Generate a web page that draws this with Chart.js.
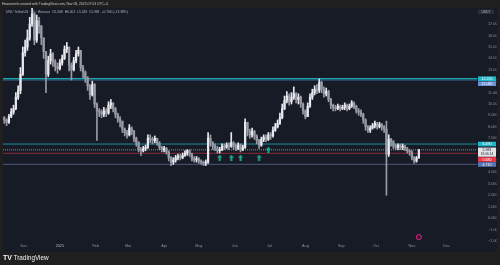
<!DOCTYPE html>
<html>
<head>
<meta charset="utf-8">
<script src="https://cdn.jsdelivr.net/npm/chart.js@4.4.0/dist/chart.umd.min.js"></script>
<style>
  html, body { margin: 0; padding: 0; background: #1f1f1f; overflow: hidden; }
  canvas { display: block; }
</style>
</head>
<body>
<canvas id="chart" width="500" height="265"></canvas>
<script>
// day 0 = 1 Dec 2024, one candle per two days
const firstDay = -17;
const dayStep = 2;
const firstOpen = 8.8;

const closes = [
  8.6, 8.4, 8.9, 9.3, 9.6, 10.6, 11.2, 12.6, 14.5, 15.0,
  15.8, 17.0, 17.9, 15.6, 17.3, 16.8, 15.8, 14.6, 12.6, 13.8,
  14.4, 13.7, 13.3, 13.1, 13.6, 14.0, 14.8, 15.0, 13.4, 13.0,
  13.8, 14.4, 14.7, 13.2, 12.8, 12.3, 11.6, 10.8, 11.7, 10.0,
  9.4, 9.3, 9.1, 9.4, 9.2, 9.9, 10.1, 9.6, 9.1, 8.7,
  8.5, 7.8, 7.5, 7.3, 7.9, 7.6, 7.0, 6.6, 6.0, 5.9,
  6.1, 6.2, 7.0, 6.9, 6.8, 7.0, 6.6, 6.2, 6.0, 6.1,
  5.8, 5.3, 4.9, 5.1, 5.3, 5.4, 5.3, 5.5, 5.7, 5.9,
  5.6, 5.2, 5.1, 5.2, 5.0, 4.9, 4.8, 4.9, 7.0, 6.6,
  6.3, 6.1, 5.9, 6.0, 6.3, 6.2, 6.4, 6.3, 6.6, 6.3,
  6.1, 6.4, 6.0, 6.2, 8.4, 7.6, 7.3, 7.6, 7.2, 6.8,
  6.4, 6.9, 7.1, 6.9, 7.3, 7.2, 7.7, 8.0, 8.3, 8.8,
  9.6, 10.3, 10.7, 10.2, 10.6, 10.9, 10.4, 10.6, 10.0, 9.4,
  8.9, 9.8, 10.6, 11.0, 11.3, 11.2, 11.9, 11.3, 10.9, 11.1,
  10.4, 9.9, 9.7, 9.6, 9.8, 9.6, 9.7, 9.9, 9.6, 9.8,
  10.1, 9.8, 9.4, 9.3, 9.1, 8.6, 8.0, 7.7, 7.9, 8.1,
  8.3, 8.0, 8.2, 8.0, 7.8, 5.6, 6.9, 6.7, 6.3, 6.2,
  6.4, 6.2, 6.3, 6.1, 5.9, 5.8, 5.3, 5.0, 5.268, 5.981
];

const highs = [
  8.9, 8.7, 9.1, 9.6, 9.9, 11.0, 11.6, 13.2, 15.0, 15.6,
  16.5, 17.6, 18.6, 18.0, 17.8, 17.6, 16.9, 15.8, 14.6, 14.2,
  14.8, 14.5, 13.9, 13.6, 13.9, 14.3, 15.1, 15.4, 15.0, 13.6,
  14.1, 14.7, 15.0, 14.7, 13.4, 12.9, 12.4, 11.7, 12.0, 11.8,
  10.1, 9.6, 9.5, 9.7, 9.6, 10.2, 10.4, 10.1, 9.7, 9.2,
  8.9, 8.5, 7.9, 7.7, 8.2, 8.0, 7.7, 7.1, 6.7, 6.2,
  6.3, 6.4, 7.3, 7.3, 7.1, 7.2, 7.0, 6.7, 6.3, 6.3,
  6.2, 5.9, 5.4, 5.3, 5.5, 5.6, 5.6, 5.7, 5.9, 6.0,
  6.0, 5.7, 5.4, 5.4, 5.3, 5.1, 5.0, 5.1, 7.5, 7.3,
  6.7, 6.5, 6.3, 6.2, 6.5, 6.5, 6.6, 6.6, 7.5, 6.7,
  6.5, 6.6, 6.5, 6.4, 8.7, 8.4, 7.8, 7.9, 7.7, 7.3,
  6.9, 7.1, 7.3, 7.3, 7.5, 7.5, 8.0, 8.3, 8.6, 9.2,
  10.0, 10.7, 11.1, 10.9, 11.0, 11.5, 11.0, 10.9, 10.7, 10.1,
  9.5, 10.1, 10.9, 11.3, 11.6, 11.7, 12.2, 12.0, 11.5, 11.4,
  11.2, 10.5, 10.0, 9.9, 10.0, 9.9, 9.9, 10.1, 10.0, 10.0,
  10.3, 10.2, 9.9, 9.6, 9.5, 9.2, 8.7, 8.1, 8.1, 8.3,
  8.5, 8.4, 8.4, 8.3, 8.1, 8.5, 7.3, 7.0, 6.8, 6.5,
  6.5, 6.5, 6.5, 6.4, 6.2, 6.0, 5.9, 5.4, 5.4, 6.002
];

const lows = [
  8.3, 8.1, 8.3, 8.8, 9.1, 9.5, 10.4, 10.9, 12.5, 14.2,
  14.7, 15.6, 16.8, 15.2, 15.4, 16.2, 15.2, 14.0, 11.0, 12.4,
  13.5, 13.3, 12.9, 12.7, 13.0, 13.4, 13.9, 14.5, 12.9, 12.1,
  12.9, 13.6, 14.2, 12.9, 12.3, 11.9, 11.2, 10.4, 10.7, 9.7,
  6.8, 8.9, 8.8, 8.9, 8.9, 9.1, 9.6, 9.3, 8.8, 8.4,
  8.0, 7.5, 7.2, 7.0, 7.2, 7.3, 6.7, 6.3, 5.8, 5.5,
  5.8, 5.9, 6.1, 6.6, 6.5, 6.6, 6.4, 6.0, 5.8, 5.8,
  5.6, 5.0, 4.6, 4.7, 4.9, 5.1, 5.1, 5.2, 5.4, 5.5,
  5.4, 5.0, 4.9, 4.9, 4.8, 4.7, 4.6, 4.6, 4.8, 6.3,
  6.0, 5.9, 5.7, 5.7, 5.9, 6.0, 6.1, 6.0, 6.2, 6.0,
  5.9, 6.0, 5.8, 5.9, 6.1, 7.2, 7.0, 7.1, 6.9, 6.5,
  6.1, 6.3, 6.7, 6.7, 6.8, 6.9, 7.1, 7.6, 7.9, 8.2,
  8.7, 9.5, 10.1, 9.9, 10.0, 10.4, 10.1, 10.0, 9.7, 9.1,
  8.7, 8.9, 9.7, 10.4, 10.8, 10.9, 11.0, 11.0, 10.6, 10.7,
  10.2, 9.6, 9.4, 9.4, 9.5, 9.4, 9.5, 9.5, 9.4, 9.5,
  9.7, 9.6, 9.2, 9.0, 8.9, 8.3, 7.7, 7.5, 7.5, 7.8,
  7.9, 7.8, 7.9, 7.7, 7.5, 2.0, 5.4, 6.3, 6.1, 6.0,
  6.0, 6.0, 6.0, 5.9, 5.7, 5.5, 5.1, 4.8, 4.9, 5.243
];

const monthDays = [0, 31, 62, 90, 121, 151, 182, 212, 243, 274, 304, 335, 365];
const monthLabels = ['Dec', '2025', 'Feb', 'Mar', 'Apr', 'May', 'Jun', 'Jul', 'Aug', 'Sep', 'Oct', 'Nov', 'Dec'];
const priceTicks = [-2, -1, 0, 1, 2, 3, 4, 5, 6, 7, 8, 9, 10, 11, 12, 13, 14, 15, 16, 17];

const levelPrices = [12.22, 12.08, 6.49, 5.981, 5.68, 4.71];
const levelTags = ['12.220', '12.080', '6.490', '5.981', '5.680', '4.710'];
const levelStyles = [
  { line: '#1fa2b0', box: '#1fb8c9', text: '#ffffff', dash: [] },
  { line: '#34496f', box: '#6a8fd8', text: '#ffffff', dash: [] },
  { line: '#1a8f9c', box: '#1fb8c9', text: '#ffffff', dash: [] },
  { line: '#8d90a0', box: '#e4e4e8', text: '#131722', dash: [1, 1] },
  { line: '#8c2a36', box: '#f23645', text: '#ffffff', dash: [] },
  { line: '#4e5780', box: '#5b74b4', text: '#ffffff', dash: [] }
];

const arrowDays = [169, 179, 187, 203, 211];
const arrowPrices = [5.3, 5.3, 5.3, 5.3, 6.0];
const markerDay = 341;
const markerPrice = -1.67;

const xMin = -18.1;
const xMax = 391.2;
const yMin = -2.1;
const yMax = 18.42;

const upColor = '#e6e8ee';
const downColor = '#989ba5';
const axisText = '#8c8f99';
const font = '"Liberation Sans", "DejaVu Sans", sans-serif';

function buildCandles() {
  const wicks = [];
  const bodies = [];
  const colors = [];
  closes.forEach((c, i) => {
    const x = firstDay + i * dayStep;
    const o = i ? closes[i - 1] : firstOpen;
    wicks.push({ x, y: [lows[i], highs[i]] });
    bodies.push({ x, y: [o, c] });
    colors.push(c >= o ? upColor : downColor);
  });
  return { wicks, bodies, colors };
}

function arrowImage() {
  const c = document.createElement('canvas');
  c.width = 5;
  c.height = 6;
  const g = c.getContext('2d');
  g.fillStyle = '#1fae8f';
  g.beginPath();
  g.moveTo(2.5, 0);
  g.lineTo(5, 3);
  g.lineTo(0, 3);
  g.closePath();
  g.fill();
  g.fillRect(1.5, 3, 2, 3);
  return c;
}

const framePlugin = {
  id: 'frame',
  beforeDraw(chart) {
    const ctx = chart.ctx;
    ctx.save();
    ctx.fillStyle = '#1f1f1f';
    ctx.fillRect(0, 0, chart.width, chart.height);
    ctx.fillStyle = '#171b26';
    ctx.fillRect(3, 8, 494, 244);
    ctx.restore();
  },
  afterDraw(chart) {
    const ctx = chart.ctx;
    const area = chart.chartArea;
    const x = chart.scales.x;
    const y = chart.scales.y;
    ctx.save();

    ctx.textBaseline = 'middle';
    ctx.textAlign = 'left';
    ctx.fillStyle = '#c8c8c8';
    ctx.font = `3.4px ${font}`;
    ctx.fillText('Hoanamnh created with TradingView.com, Nov 08, 2025 07:53 UTC+4', 2, 4);

    ctx.fillStyle = '#b2b5be';
    ctx.font = `3.3px ${font}`;
    ctx.fillText('UNI / TetherUS · 1D · Binance  O5.268  H6.002  L5.243  C5.981  +0.706 (+13.38%)', 6, 12);

    // time axis labels
    ctx.textAlign = 'center';
    ctx.font = `3.8px ${font}`;
    monthDays.forEach((d, i) => {
      ctx.fillStyle = monthLabels[i] === '2025' ? '#b2b5be' : axisText;
      ctx.fillText(monthLabels[i], x.getPixelForValue(d), area.bottom + 4);
    });

    // price axis tags
    const boxX = area.right + 1;
    const boxW = 18;
    const boxH = 4.6;
    ctx.fillStyle = '#2a2e39';
    ctx.fillRect(boxX, 9.5, boxW - 2, boxH);
    ctx.fillStyle = '#b2b5be';
    ctx.font = `3.4px ${font}`;
    ctx.fillText('USDT', boxX + (boxW - 2) / 2, 12);

    const order = levelPrices.map((p, i) => i).sort((a, b) => levelPrices[b] - levelPrices[a]);
    let lastBottom = -Infinity;
    order.forEach((i) => {
      const h = levelPrices[i] === 5.981 ? boxH * 2 : boxH;
      let top = y.getPixelForValue(levelPrices[i]) - boxH / 2;
      if (top < lastBottom + 0.4) top = lastBottom + 0.4;
      lastBottom = top + h;
      const st = levelStyles[i];
      ctx.fillStyle = st.box;
      ctx.fillRect(boxX, top, boxW, h);
      ctx.fillStyle = st.text;
      ctx.font = `3.6px ${font}`;
      ctx.fillText(levelTags[i], boxX + boxW / 2, top + boxH / 2 + 0.2);
      if (h > boxH) {
        ctx.font = `3.2px ${font}`;
        ctx.fillText('16:06:14', boxX + boxW / 2, top + boxH * 1.5);
      }
    });

    // footer
    ctx.textAlign = 'left';
    ctx.fillStyle = '#f0f0f0';
    ctx.font = `bold 7px ${font}`;
    ctx.fillText('TV', 3, 258);
    ctx.font = `6.4px ${font}`;
    ctx.fillText('TradingView', 13.5, 258);
    ctx.restore();
  }
};

const { wicks, bodies, colors } = buildCandles();

const levelSets = levelPrices.map((p, i) => ({
  type: 'line',
  data: [{ x: xMin, y: p }, { x: xMax, y: p }],
  borderColor: levelStyles[i].line,
  borderWidth: i === 0 ? 1.5 : 1,
  borderDash: levelStyles[i].dash,
  pointRadius: 0,
  order: 10
}));

new Chart(document.getElementById('chart'), {
  type: 'bar',
  data: {
    datasets: [
      ...levelSets,
      {
        data: wicks,
        backgroundColor: colors,
        barThickness: 1,
        grouped: false,
        order: 4
      },
      {
        data: bodies,
        backgroundColor: colors,
        barThickness: 1.6,
        minBarLength: 0.8,
        grouped: false,
        order: 3
      },
      {
        type: 'scatter',
        data: arrowDays.map((d, i) => ({ x: d, y: arrowPrices[i] })),
        pointStyle: arrowImage(),
        order: 1
      },
      {
        type: 'scatter',
        data: [{ x: markerDay, y: markerPrice }],
        pointRadius: 2.6,
        backgroundColor: '#3d1838',
        borderColor: '#d02a78',
        borderWidth: 1,
        order: 1
      }
    ]
  },
  options: {
    responsive: false,
    animation: false,
    events: [],
    layout: { autoPadding: false, padding: { left: 3, top: 8, right: 3, bottom: 13 } },
    plugins: { legend: { display: false }, tooltip: { enabled: false } },
    scales: {
      x: {
        type: 'linear',
        min: xMin,
        max: xMax,
        offset: false,
        grid: { display: false },
        border: { display: false },
        afterFit: (s) => { s.height = 10; s.paddingLeft = 0; s.paddingRight = 0; },
        ticks: { display: false }
      },
      y: {
        position: 'right',
        min: yMin,
        max: yMax,
        grid: { display: false },
        border: { display: false },
        afterBuildTicks: (s) => { s.ticks = priceTicks.map((v) => ({ value: v })); },
        afterFit: (s) => { s.width = 20; s.paddingTop = 0; s.paddingBottom = 0; },
        ticks: {
          padding: 3,
          color: axisText,
          font: { size: 3.8, family: font },
          callback: (v) => (v < 0 ? '\u2212' + Math.abs(v).toFixed(3) : v.toFixed(3))
        }
      }
    }
  },
  plugins: [framePlugin]
});
</script>
</body>
</html>
